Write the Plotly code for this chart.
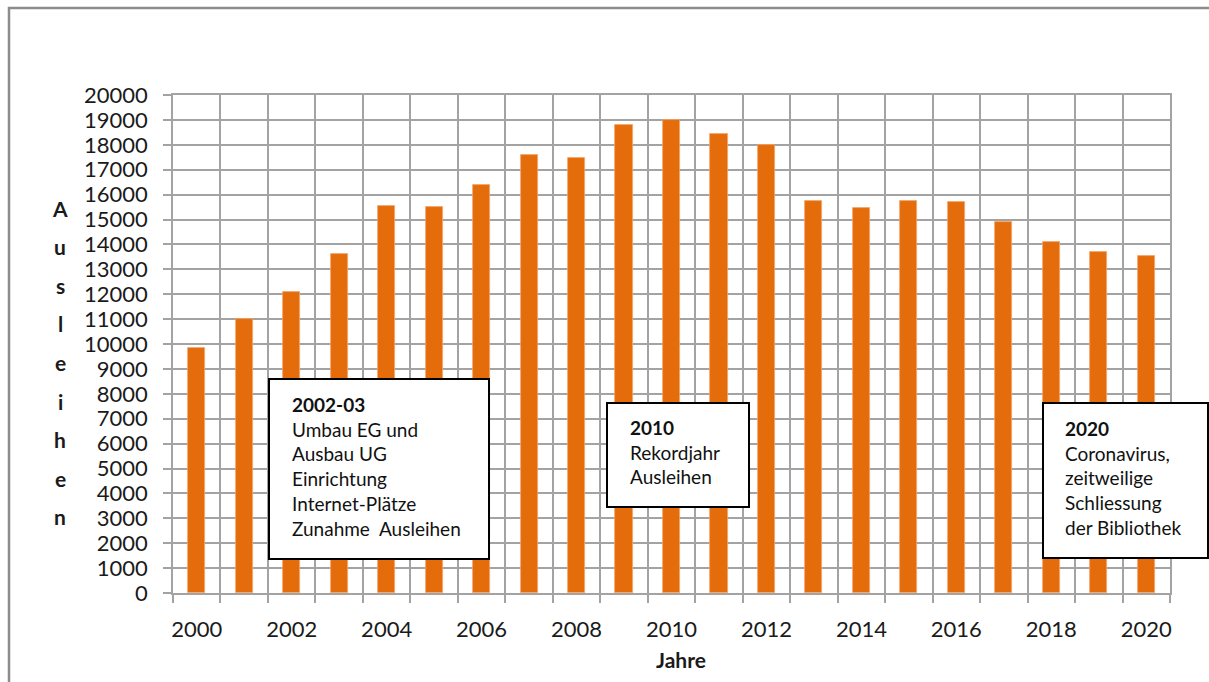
import plotly.graph_objects as go

years = list(range(2000, 2021))
ausleihen = [9850, 11000, 12100, 13600, 15550, 15500, 16380, 17600, 17450, 18800,
             19000, 18450, 18000, 15750, 15450, 15750, 15700, 14900, 14100, 13700, 13550]
x_tick_years = years[::2]
x_tick_labels = [str(y) for y in x_tick_years]
y_ticks = list(range(0, 20001, 1000))
y_title_letters = list("Ausleihen")
box_texts = [
    "<b>2002-03</b><br>Umbau EG und<br>Ausbau UG<br>Einrichtung<br>Internet-Plätze<br>Zunahme  Ausleihen",
    "<b>2010</b><br>Rekordjahr<br>Ausleihen",
    "<b>2020</b><br>Coronavirus,<br>zeitweilige<br>Schliessung<br>der Bibliothek",
]

W, H = 1209, 682
# plot area in pixels
L, R, T, B = 173, 1170, 95, 593
FONT = "Lato, 'Open Sans', sans-serif"
GRID = "#a3a3a3"


def px(x):
    return (x - L) / (R - L)


def py(y):
    return (B - y) / (B - T)


fig = go.Figure()
fig.add_trace(go.Bar(
    x=years, y=ausleihen, width=0.36,
    marker=dict(color="#e46c0a", line=dict(color="#f3a66a", width=0.8)),
    hoverinfo="x+y",
))

boundaries = [y - 0.5 for y in years] + [years[-1] + 0.5]

fig.update_layout(
    width=W, height=H,
    margin=dict(l=L, r=W - R, t=T, b=H - B, pad=0),
    paper_bgcolor="white", plot_bgcolor="white",
    showlegend=False,
    font=dict(family=FONT, color="#1a1a1a"),
    bargap=0,
    xaxis=dict(
        range=[years[0] - 0.5, years[-1] + 0.5],
        tickmode="array", tickvals=x_tick_years, ticktext=x_tick_labels,
        showgrid=False, ticks="", zeroline=False,
        tickfont=dict(size=22, family=FONT, color="#1a1a1a"),
        ticklabelstandoff=16,
        showline=True, mirror=True, linecolor=GRID, linewidth=1.5,
        minor=dict(tickmode="array", tickvals=boundaries, showgrid=True,
                   gridcolor=GRID, gridwidth=1.5, ticks="outside", ticklen=8,
                   tickcolor=GRID, tickwidth=1.5),
    ),
    yaxis=dict(
        range=[0, 20000], tickmode="array", tickvals=y_ticks,
        ticktext=[str(v) for v in y_ticks],
        showgrid=True, gridcolor=GRID, gridwidth=1.5, zeroline=False,
        ticks="outside", ticklen=8, tickcolor=GRID, tickwidth=1.5,
        tickfont=dict(size=22, family=FONT, color="#1a1a1a"),
        ticklabelstandoff=11,
        showline=True, mirror=True, linecolor=GRID, linewidth=1.5,
    ),
)

# outer chart border
fig.add_shape(type="rect", xref="paper", yref="paper",
              x0=px(9), x1=px(1225), y0=py(700), y1=py(8),
              line=dict(color="#8c8c8c", width=2.5), fillcolor="rgba(0,0,0,0)",
              layer="below")

# x axis title
fig.add_annotation(text="<b>Jahre</b>", xref="paper", yref="paper",
                   x=px(681), y=py(659), xanchor="center", yanchor="middle",
                   showarrow=False, font=dict(size=21, family=FONT, color="#1a1a1a"))

# y axis title: stacked letters
for i, ch in enumerate(y_title_letters):
    fig.add_annotation(text="<b>%s</b>" % ch, xref="paper", yref="paper",
                       x=px(60), y=py(208 + i * 38.6), xanchor="center", yanchor="middle",
                       showarrow=False, font=dict(size=21, family=FONT, color="#1a1a1a"))

# text boxes (pixels)
boxes = [
    (269, 489, 379, 559, 290, 391),
    (607, 749, 403, 507, 628, 414),
    (1043, 1208, 403, 558, 1063, 415),
]
for (x0, x1, y0, y1, tx, ty), txt in zip(boxes, box_texts):
    fig.add_shape(type="rect", xref="paper", yref="paper",
                  x0=px(x0), x1=px(x1), y0=py(y1), y1=py(y0),
                  line=dict(color="black", width=2), fillcolor="white", layer="above")
    fig.add_annotation(text=txt, xref="paper", yref="paper",
                       x=px(tx), y=py(ty), xanchor="left", yanchor="top", align="left",
                       showarrow=False, font=dict(size=19, family=FONT, color="#111111"))

fig.write_html("out.html",
               config={"displayModeBar": False},
               post_script="document.body.style.margin='0';document.body.style.overflow='hidden';")
